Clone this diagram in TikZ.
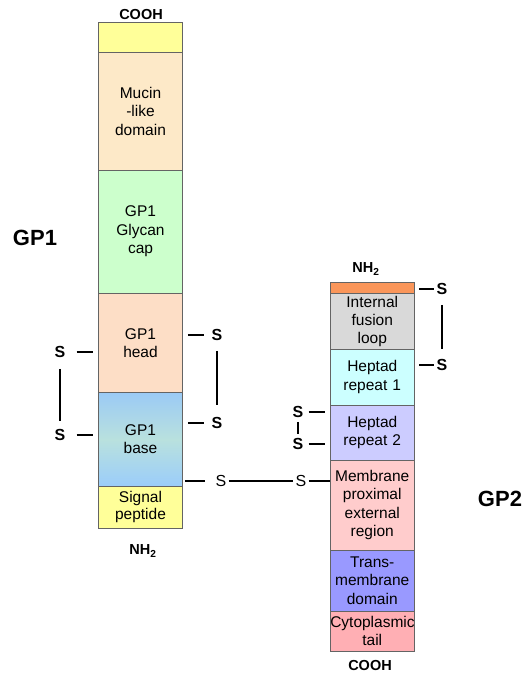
\documentclass[tikz,border=0pt]{standalone}
\usepackage{fontspec}
\setmainfont{Liberation Sans}
\definecolor{cYel}{RGB}{255,255,153}
\definecolor{cMucin}{RGB}{253,233,200}
\definecolor{cGlycan}{RGB}{204,255,204}
\definecolor{cHead}{RGB}{253,222,198}
\definecolor{cBaseTop}{RGB}{155,202,245}
\definecolor{cBaseMid}{RGB}{185,225,222}
\definecolor{cBaseBot}{RGB}{155,205,250}
\definecolor{cSig}{RGB}{255,255,153}
\definecolor{cOrange}{RGB}{250,150,90}
\definecolor{cFusion}{RGB}{217,217,217}
\definecolor{cHeptA}{RGB}{204,255,255}
\definecolor{cHeptB}{RGB}{204,204,255}
\definecolor{cMper}{RGB}{255,204,204}
\definecolor{cTm}{RGB}{153,153,255}
\definecolor{cCyto}{RGB}{255,175,180}
\definecolor{cEdge}{RGB}{100,100,100}
\begin{document}
\begin{tikzpicture}[x=1pt,y=-1pt,
  seg/.style={draw=cEdge, line width=0.9pt, inner sep=0pt, align=center,
    text width=84pt, minimum width=83pt,
    font=\fontsize{15.5}{18.5}\selectfont},
  sbold/.style={inner sep=0pt, font=\bfseries\fontsize{16}{16}\selectfont},
  sreg/.style={inner sep=0pt, font=\fontsize{16}{16}\selectfont},
  term/.style={inner sep=0pt, font=\bfseries\fontsize{14.5}{14.5}\selectfont},
  big/.style={inner sep=0pt, font=\bfseries\fontsize{22}{22}\selectfont},
  bond/.style={line width=2.2pt},
  thinbond/.style={line width=1.3pt}]
\useasboundingbox (0,0) rectangle (524,674);

% GP1 column
\node[seg, fill=cYel, minimum height=30pt] (top) at (140.5,37.7) {};
\node[seg, fill=cMucin, minimum height=117.3pt] (mucin) at (140.5,111.35) {Mucin\\-like\\domain};
\node[seg, fill=cGlycan, minimum height=123.3pt] (glycan) at (140.5,231.65) {GP1\\Glycan\\cap};
\node[seg, fill=cHead, minimum height=99.4pt] (head) at (140.5,343) {GP1\\head};
\node[seg, top color=cBaseTop, bottom color=cBaseBot, middle color=cBaseMid, minimum height=93.3pt] (base) at (140.5,439.35) {GP1\\base};
\node[seg, fill=cSig, minimum height=42pt, font=\fontsize{15.5}{17}\selectfont] (sig) at (140.5,507) {Signal\\peptide};

% GP2 column
\node[seg, minimum width=84.5pt, fill=cOrange, minimum height=11pt] (orange) at (372.25,287.8) {};
\node[seg, minimum width=84.5pt, fill=cFusion, minimum height=55.7pt, font=\fontsize{15.5}{18}\selectfont] (fusion) at (372.25,321.15) {Internal\\fusion\\loop};
\node[seg, minimum width=84.5pt, fill=cHeptA, minimum height=56pt] (heptA) at (372.25,377) {Heptad\\repeat 1};
\node[seg, minimum width=84.5pt, fill=cHeptB, minimum height=55pt] (heptB) at (372.25,432.5) {Heptad\\repeat 2};
\node[seg, minimum width=84.5pt, fill=cMper, minimum height=90pt] (mper) at (372.25,505) {Membrane\\proximal\\external\\region};
\node[seg, minimum width=84.5pt, fill=cTm, minimum height=61pt] (tm) at (372.25,580.5) {Trans-\\membrane\\domain};
\node[seg, minimum width=84.5pt, fill=cCyto, minimum height=40pt] (cyto) at (372.25,631) {Cytoplasmic\\tail};

% terminal labels
\node[term] (cooh1) at (141,15) {COOH};
\node[term] (nh1) at (143,551) {NH\textsubscript{2}};
\node[term] (nh2) at (366,269) {NH\textsubscript{2}};
\node[term] (cooh2) at (370,665) {COOH};
\node[big] (gp1) at (35,238) {GP1};
\node[big] (gp2) at (500,499) {GP2};

% left disulfide (GP1 head - base)
\node[sbold] (sL1) at (60,352) {S};
\node[sbold] (sL2) at (60,435) {S};
\draw[bond, shorten <=11pt, shorten >=5pt] (sL1) -- (sL1 -| head.west);
\draw[bond, shorten <=11pt, shorten >=5pt] (sL2) -- (sL2 -| base.west);
\draw[bond, shorten <=11pt, shorten >=8pt] (sL1) -- (sL2);

% right disulfide (GP1 head - base)
\node[sbold] (sR1) at (217,335) {S};
\node[sbold] (sR2) at (217,423) {S};
\draw[bond, shorten <=5pt, shorten >=7pt] (sR1 -| head.east) -- (sR1);
\draw[bond, shorten <=5pt, shorten >=7pt] (sR2 -| base.east) -- (sR2);
\draw[bond, shorten <=10pt, shorten >=12pt] (sR1) -- (sR2);

% GP1 - GP2 disulfide
\node[sreg] (sC1) at (221,481) {S};
\node[sreg] (sC2) at (301,481) {S};
\draw[thinbond, shorten <=2pt, shorten >=10pt] (sC1 -| base.east) -- (sC1);
\draw[thinbond, shorten <=2pt, shorten >=2pt] (sC1) -- (sC2);
\draw[thinbond, shorten <=2pt] (sC2) -- (sC2 -| mper.west);

% heptad repeat 2 disulfide
\node[sbold] (sH1) at (298,412) {S};
\node[sbold] (sH2) at (298,444) {S};
\draw[bond, shorten <=5pt, shorten >=5pt] (sH1) -- (sH1 -| heptB.west);
\draw[bond, shorten <=5pt, shorten >=5pt] (sH2) -- (sH2 -| heptB.west);
\draw[bond, line width=1.8pt, shorten <=4pt, shorten >=4pt] (sH1) -- (sH2);

% GP2 fusion loop disulfide
\node[sbold] (sG1) at (442,289) {S};
\node[sbold] (sG2) at (442,365) {S};
\draw[bond, shorten <=4.5pt, shorten >=2pt] (sG1 -| orange.east) -- (sG1);
\draw[bond, shorten <=4.5pt, shorten >=2pt] (sG2 -| heptA.east) -- (sG2);
\draw[bond, shorten <=10pt, shorten >=10pt] (sG1) -- (sG2);
\end{tikzpicture}
\end{document}
